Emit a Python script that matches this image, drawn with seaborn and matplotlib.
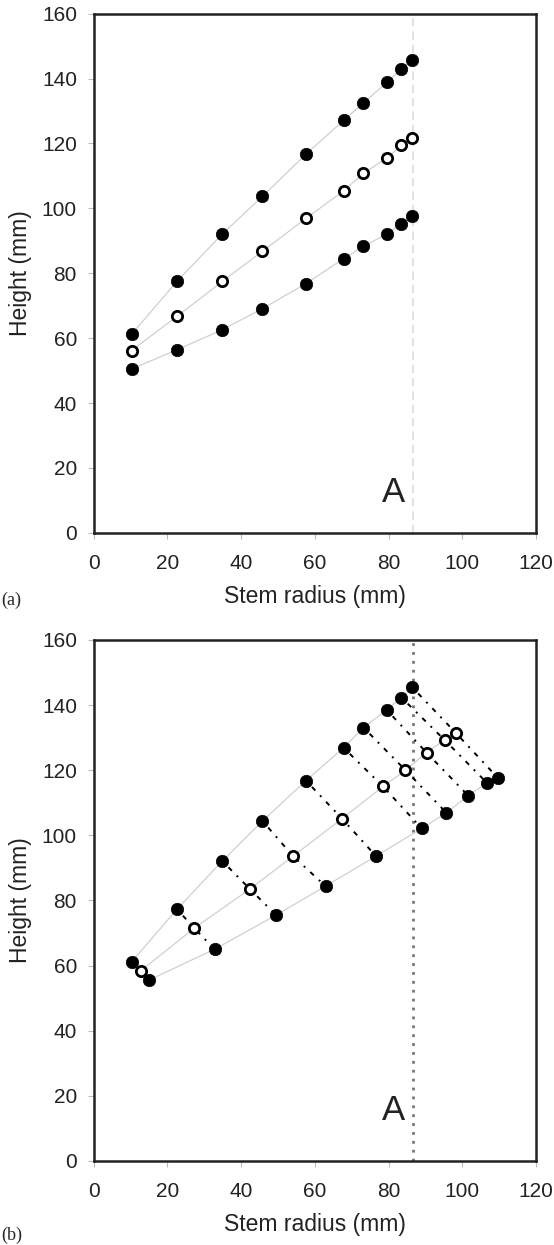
import seaborn as sns
from matplotlib import pyplot as plt
import pandas as pd

# panel (a): three height profiles along stem radius
radius_a = [10.3, 22.6, 34.9, 45.8, 57.6, 67.8, 73.2, 79.5, 83.5, 86.4]
upper_a = [61.2, 77.5, 92.1, 103.7, 116.7, 127.1, 132.5, 138.8, 142.9, 145.8]
middle_a = [56.2, 66.7, 77.5, 86.8, 96.9, 105.4, 110.8, 115.5, 119.4, 121.7]
lower_a = [50.5, 56.4, 62.6, 69.1, 76.8, 84.5, 88.3, 92.1, 95.3, 97.5]

# panel (b): profiles with their own radius positions
upper_b_x = [10.3, 22.6, 34.9, 45.8, 57.6, 67.8, 73.2, 79.5, 83.5, 86.4]
upper_b_y = [61.1, 77.3, 92.1, 104.4, 116.8, 126.9, 133.1, 138.5, 142.3, 145.5]
middle_b_x = [12.8, 27.3, 42.4, 54.1, 67.4, 78.5, 84.6, 90.3, 95.2, 98.2]
middle_b_y = [58.4, 71.5, 83.5, 93.6, 105.1, 115.0, 120.0, 125.4, 129.3, 131.5]
lower_b_x = [15.1, 32.8, 49.5, 62.9, 76.6, 89.0, 95.7, 101.6, 106.7, 109.6]
lower_b_y = [55.6, 65.0, 75.5, 84.4, 93.6, 102.1, 106.9, 112.2, 116.1, 117.7]

line_a = 86.5
x_ticks = [0, 20, 40, 60, 80, 100, 120]
y_ticks = [0, 20, 40, 60, 80, 100, 120, 140, 160]

sns.set_style('white')
plt.rcParams['font.family'] = ['Liberation Sans', 'DejaVu Sans']

fig = plt.figure(figsize=(5.54, 12.45), dpi=100)
ax1 = fig.add_axes([0.169, 0.572, 0.7985, 0.417])
ax2 = fig.add_axes([0.169, 0.0675, 0.7985, 0.4185])


def draw_series(ax, x, y, filled):
    df = pd.DataFrame({'x': x, 'y': y})
    sns.lineplot(data=df, x='x', y='y', ax=ax, sort=False, color='#d0d0d0',
                 linewidth=0.9, zorder=1)
    if filled:
        sns.scatterplot(data=df, x='x', y='y', ax=ax, color='black', s=80,
                        edgecolor='black', linewidth=0.5, zorder=3)
    else:
        sns.scatterplot(data=df, x='x', y='y', ax=ax, color='white', s=55,
                        edgecolor='black', linewidth=2.0, zorder=3)


# panel a
ax1.axvline(line_a, color='#dddddd', linestyle=(0, (5, 3)), linewidth=1.2, zorder=0)
draw_series(ax1, radius_a, upper_a, True)
draw_series(ax1, radius_a, middle_a, False)
draw_series(ax1, radius_a, lower_a, True)
ax1.text(81.3, 12.3, 'A', fontsize=25, ha='center', va='center', color='#222222')

# panel b
ax2.axvline(line_a, color='#777777', linestyle=(0, (1, 2.2)), linewidth=2.0, zorder=0)
for i in range(len(upper_b_x)):
    seg = pd.DataFrame({'x': [upper_b_x[i], middle_b_x[i], lower_b_x[i]],
                        'y': [upper_b_y[i], middle_b_y[i], lower_b_y[i]]})
    sns.lineplot(data=seg, x='x', y='y', ax=ax2, sort=False, color='black',
                 linewidth=1.4, linestyle=(0, (1, 3.5, 2.5, 3.5)), zorder=2)
draw_series(ax2, upper_b_x, upper_b_y, True)
draw_series(ax2, middle_b_x, middle_b_y, False)
draw_series(ax2, lower_b_x, lower_b_y, True)
ax2.text(81.3, 15.4, 'A', fontsize=25, ha='center', va='center', color='#222222')

for ax in (ax1, ax2):
    ax.set_xlim(0, 120)
    ax.set_ylim(0, 160)
    ax.set_xticks(x_ticks)
    ax.set_yticks(y_ticks)
    ax.tick_params(labelsize=15, length=4, width=0.8, color='#bbbbbb',
                   direction='out', left=True, bottom=True, labelcolor='#222222')
    ax.tick_params(axis='x', pad=11)
    ax.tick_params(axis='y', pad=8)
    ax.set_xlabel('Stem radius (mm)', fontsize=16.5, color='#222222', labelpad=9)
    ax.set_ylabel('Height (mm)', fontsize=16.5, color='#222222', labelpad=7)
    for sp in ax.spines.values():
        sp.set_color('#222222')
        sp.set_linewidth(1.8)

fig.text(0.003, 0.518, '(a)', fontsize=13, family='Liberation Serif', va='center')
fig.text(0.003, 0.008, '(b)', fontsize=13, family='Liberation Serif', va='center')

plt.savefig('out.png', dpi=100)
